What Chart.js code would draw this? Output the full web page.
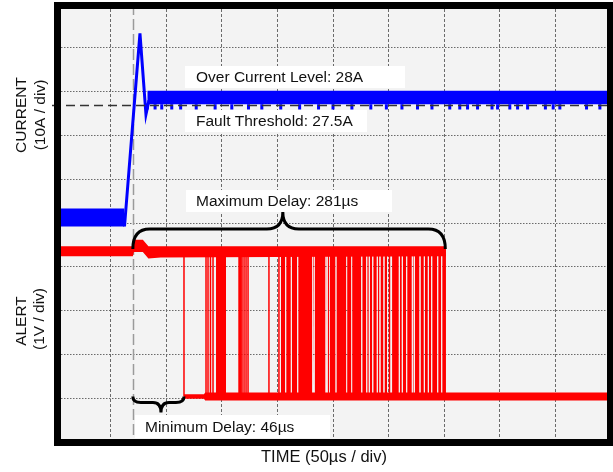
<!DOCTYPE html>
<html lang="en">
<head>
<meta charset="UTF-8">
<title>Over Current Alert Delay</title>
<script src="https://cdn.jsdelivr.net/npm/chart.js"></script>
<style>
    body { margin: 0; background: #fff; }
    #wrap { width: 613px; height: 472px; }
</style>
</head>
<body>
<div id="wrap"><canvas id="scope" width="613" height="472"></canvas></div>
<script>
// Time is in µs from the left edge of the screen (50 µs / div, 10 div)
const timeGrid = [0, 50, 100, 150, 200, 250, 300, 350, 400, 450, 500];
const divGrid = [0, 1, 2, 3, 4, 5, 6, 7, 8, 9, 10];
const triggerTime = 70;
const maxDelay = 281;   // µs after trigger
const minDelay = 46;    // µs after trigger
const faultThreshold = 27.5; // A

// CURRENT trace (A, 10 A / div)
const currentPreT = [0, 62.5];
const currentPreMin = [-0.3, -0.3];
const currentPreMax = [3.8, 3.8];
const currentStepT = [62.5, 76.4, 81.8, 84.5];
const currentStepA = [-0.3, 43.8, 25.3, 28.5];
const currentPostT = [83, 500];
const currentPostMin = [27.6, 27.6];
const currentPostMax = [30.7, 30.7];
const currentDipT = [83, 90, 96, 105, 113, 127, 144, 159, 174, 186, 203, 220, 237, 250, 267, 284, 298,
    312, 326, 339, 355, 364, 371, 380, 393, 398, 409, 416, 425, 441, 448, 454, 478, 490];
const currentDipA = 26.4;

// ALERT trace (V, 1 V / div)
const alertHigh = 3.3;
const alertLow = 0;
const alertHighT = [0, 70, 71, 79, 84, 95, 351.6];
const alertHighMin = [3.2, 3.2, 3.3, 3.3, 3.15, 3.17, 3.2];
const alertHighMax = [3.43, 3.43, 3.58, 3.58, 3.43, 3.43, 3.43];
const alertLowT = [116, 134, 135, 500];
const alertLowMin = [-0.05, -0.05, -0.09, -0.09];
const alertLowMax = [0.05, 0.05, 0.09, 0.09];
// single toggles
const alertEdgeT = [116.0, 135.8, 137.6, 139.8, 142.1, 165.5, 166.8, 168.2, 170.0, 171.8, 173.6, 192.4, 201.4, 300.8];
// dense toggling (solid red between high and low)
const alertBurstStart = [144.8, 203.2, 207.9, 213.0, 218.7, 232.1, 233.5, 244.1, 245.2, 247.0, 253.1, 262.7, 267.2,
    276.3, 280.8, 283.1, 286.2, 290.3, 292.7, 296.3, 303.1, 310.1, 312.8, 316.7, 321.8, 323.6, 328.7, 332.6, 336.2,
    339.2, 344.6, 348.2];
const alertBurstEnd = [153.8, 207.0, 212.1, 217.8, 231.4, 232.8, 243.3, 244.5, 246.4, 252.3, 262.0, 266.5, 275.4,
    279.9, 282.2, 285.3, 289.4, 291.8, 295.4, 298.6, 309.2, 311.9, 315.8, 320.9, 322.6, 327.8, 331.7, 335.3, 338.3,
    343.7, 347.3, 351.6];

const BLUE = '#0000ff';
const RED = '#ff0000';
const FONT = '15.5px "Liberation Sans", Arial, sans-serif';

function pts(xs, ys) {
    return xs.map((x, i) => ({ x: x, y: Array.isArray(ys) ? ys[i] : ys }));
}

// upper line + lower line filled between them
function envelope(xs, lo, hi, color, axis) {
    return [
        { data: pts(xs, hi), yAxisID: axis, borderWidth: 0, borderColor: color, fill: false },
        { data: pts(xs, lo), yAxisID: axis, borderWidth: 0, borderColor: color, backgroundColor: color, fill: '-1' }
    ];
}

function verticals(xs, top, bottom) {
    const out = [];
    xs.forEach(x => { out.push({ x: x, y: top }, { x: x, y: bottom }, { x: x, y: null }); });
    return out;
}

const datasets = [];
datasets.push(...envelope(currentPreT, currentPreMin, currentPreMax, BLUE, 'yI'));
datasets.push(...envelope(currentPostT, currentPostMin, currentPostMax, BLUE, 'yI'));
datasets.push({ data: pts(currentStepT, currentStepA), yAxisID: 'yI', borderColor: BLUE, borderWidth: 3 });
datasets.push({ data: verticals(currentDipT, currentPostMin[0], currentDipA), yAxisID: 'yI', borderColor: BLUE, borderWidth: 3 });

datasets.push(...envelope(alertHighT, alertHighMin, alertHighMax, RED, 'yV'));
datasets.push(...envelope(alertLowT, alertLowMin, alertLowMax, RED, 'yV'));
datasets.push({ data: verticals(alertEdgeT, alertHigh, alertLow), yAxisID: 'yV', borderColor: RED, borderWidth: 1.5 });
alertBurstStart.forEach((s, i) => {
    datasets.push(...envelope([s, alertBurstEnd[i]], alertLow, alertHigh, RED, 'yV'));
});

function drawBrace(ctx, x1, x2, xTip, yEnd, yBar, yTip, r, rt) {
    ctx.beginPath();
    ctx.moveTo(x1, yEnd);
    ctx.quadraticCurveTo(x1, yBar, x1 + r, yBar);
    ctx.lineTo(xTip - rt, yBar);
    ctx.quadraticCurveTo(xTip, yBar, xTip, yTip);
    ctx.quadraticCurveTo(xTip, yBar, xTip + rt, yBar);
    ctx.lineTo(x2 - r, yBar);
    ctx.quadraticCurveTo(x2, yBar, x2, yEnd);
    ctx.stroke();
}

function label(ctx, text, bx, by, bw, bh, tx) {
    ctx.fillStyle = '#fff';
    ctx.fillRect(bx, by, bw, bh);
    ctx.fillStyle = '#111';
    ctx.font = FONT;
    ctx.textAlign = 'left';
    ctx.textBaseline = 'middle';
    ctx.fillText(text, tx, by + bh / 2 + 1);
}

function vText(ctx, text, x, y) {
    ctx.save();
    ctx.translate(x, y);
    ctx.rotate(-Math.PI / 2);
    ctx.fillText(text, 0, 0);
    ctx.restore();
}

const scopeDecor = {
    id: 'scopeDecor',
    beforeDraw(chart) {
        const { ctx, chartArea: a } = chart;
        ctx.save();
        ctx.fillStyle = '#f3f3f3';
        ctx.fillRect(a.left, a.top, a.right - a.left, a.bottom - a.top);
        ctx.restore();
    },
    beforeDatasetsDraw(chart) {
        const { ctx, chartArea: a } = chart;
        const xt = Math.round(chart.scales.x.getPixelForValue(triggerTime)) + 0.5;
        ctx.save();
        ctx.strokeStyle = '#9a9a9a';
        ctx.lineWidth = 1.5;
        ctx.setLineDash([11, 4]);
        ctx.beginPath();
        ctx.moveTo(xt, a.top);
        ctx.lineTo(xt, a.bottom);
        ctx.stroke();
        ctx.restore();
    },
    afterDatasetsDraw(chart) {
        const { ctx, chartArea: a } = chart;
        const sx = chart.scales.x, sI = chart.scales.yI, sV = chart.scales.yV;
        ctx.save();
        // fault threshold
        const yf = Math.round(sI.getPixelForValue(faultThreshold)) + 0.5;
        ctx.strokeStyle = '#333';
        ctx.lineWidth = 1.3;
        ctx.setLineDash([9, 5]);
        ctx.beginPath();
        ctx.moveTo(a.left - 3, yf);
        ctx.lineTo(a.right, yf);
        ctx.stroke();
        ctx.setLineDash([]);

        // braces
        const x0 = sx.getPixelForValue(triggerTime);
        const xMax = sx.getPixelForValue(triggerTime + maxDelay);
        const xMin = sx.getPixelForValue(triggerTime + minDelay);
        const hp = sV.getPixelForValue(alertHigh);
        const lp = sV.getPixelForValue(alertLow);
        ctx.strokeStyle = '#000';
        ctx.lineWidth = 3;
        drawBrace(ctx, x0, xMax, x0 + (xMax - x0) * 0.48, hp - 3, hp - 23, hp - 40, 17, 16);
        drawBrace(ctx, x0, xMin, x0 + (xMin - x0) * 0.55, lp, lp + 6, lp + 16, 8, 8);

        // text boxes
        label(ctx, 'Over Current Level: 28A', 185, 66, 220, 22, 196);
        label(ctx, 'Fault Threshold: 27.5A', 185, 110, 182, 22, 196);
        label(ctx, 'Maximum Delay: 281µs', 186, 190, 206, 22, 196);
        label(ctx, 'Minimum Delay: 46µs', 135, 415, 195, 23, 145);
        ctx.restore();
    },
    afterDraw(chart) {
        const { ctx } = chart;
        ctx.save();
        // scope frame
        ctx.strokeStyle = '#000';
        ctx.lineWidth = 7;
        ctx.strokeRect(57.5, 5.5, 553, 437);
        // axis titles
        ctx.fillStyle = '#111';
        ctx.font = FONT;
        ctx.textAlign = 'center';
        ctx.textBaseline = 'middle';
        vText(ctx, 'CURRENT', 22, 115);
        vText(ctx, '(10A / div)', 41, 115);
        vText(ctx, 'ALERT', 22, 321);
        vText(ctx, '(1V / div)', 40, 319);
        ctx.font = '16.5px "Liberation Sans", Arial, sans-serif';
        ctx.fillText('TIME (50µs / div)', 324, 457);
        ctx.restore();
    }
};

new Chart(document.getElementById('scope'), {
    type: 'line',
    data: { datasets: datasets },
    options: {
        responsive: false,
        animation: false,
        events: [],
        layout: { padding: { left: 55, right: 2, top: 4, bottom: 30 } },
        elements: { point: { radius: 0 }, line: { tension: 0 } },
        plugins: { legend: { display: false }, tooltip: { enabled: false } },
        scales: {
            x: {
                type: 'linear', min: timeGrid[0], max: timeGrid[timeGrid.length - 1],
                afterBuildTicks: s => { s.ticks = timeGrid.map(v => ({ value: v })); },
                ticks: { display: false },
                grid: { color: '#6a6a6a', lineWidth: 1, drawTicks: false },
                border: { display: false, dash: [3, 2] }
            },
            y: {
                type: 'linear', min: divGrid[0], max: divGrid[divGrid.length - 1],
                afterBuildTicks: s => { s.ticks = divGrid.map(v => ({ value: v })); },
                ticks: { display: false },
                grid: { color: '#6a6a6a', lineWidth: 1, drawTicks: false },
                border: { display: false, dash: [1.5, 1.5] }
            },
            yI: { type: 'linear', display: false, min: -49.5, max: 50.5 },
            yV: { type: 'linear', display: false, min: -1.04, max: 8.96 }
        }
    },
    plugins: [scopeDecor]
});
</script>
</body>
</html>
